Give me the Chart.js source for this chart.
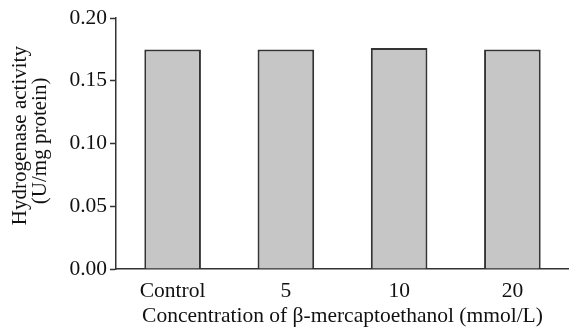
<!DOCTYPE html>
<html>
<head>
<meta charset="utf-8">
<script src="https://cdn.jsdelivr.net/npm/chart.js@4"></script>
<style>
  html, body { margin: 0; padding: 0; background: #fff; }
  #wrap { width: 569px; height: 329px; }
</style>
</head>
<body>
<div id="wrap"><canvas id="chartAktivitas"></canvas></div>
<script>
/* data */
const categories = ["Control", "5", "10", "20"];
const activity = [0.175, 0.175, 0.176, 0.175];
const yTicks = [0, 0.05, 0.1, 0.15, 0.2];

const serif = "'Liberation Serif', 'Times New Roman', serif";
const dark = "#333333";

const cAktivitas = document.getElementById("chartAktivitas");
new Chart(cAktivitas, {
  type: "bar",
  data: {
    labels: categories,
    datasets: [
      {
        data: activity,
        backgroundColor: "#c6c6c6",
        borderColor: dark,
        borderWidth: 2,
        categoryPercentage: 1,
        barPercentage: 0.5,
      },
    ],
  },
  options: {
    responsive: true,
    maintainAspectRatio: false,
    animation: false,
    layout: { padding: { top: 18, right: 0, left: 0, bottom: 0 } },
    plugins: {
      legend: { display: false },
      tooltip: { enabled: false },
    },
    scales: {
      x: {
        offset: true,
        grid: { display: false },
        border: { display: true, color: dark, width: 1.5 },
        ticks: { color: "#111", font: { family: serif, size: 21.5 }, padding: 1 },
        title: {
          display: true,
          text: "Concentration of \u03b2-mercaptoethanol (mmol/L)",
          color: "#111",
          font: { family: serif, size: 21.5 },
          padding: { top: 2, bottom: 0 },
        },
        afterFit: function (scale) {
          scale.height = 60;
        },
      },
      y: {
        min: 0,
        max: 0.2,
        afterBuildTicks: function (scale) {
          scale.ticks = yTicks.map(function (v) {
            return { value: v };
          });
        },
        grid: {
          display: true,
          drawOnChartArea: false,
          drawTicks: true,
          tickLength: 6,
          tickColor: dark,
          tickWidth: 1.5,
        },
        border: { display: true, color: dark, width: 1.5 },
        ticks: {
          color: "#111",
          font: { family: serif, size: 21.5 },
          padding: 3,
          callback: function (v) {
            return Number(v).toFixed(2);
          },
        },
        title: {
          display: true,
          // leading spaces nudge the rotated lines up a little
          text: ["   Hydrogenase activity", " (U/mg protein)"],
          color: "#111",
          font: { family: serif, size: 21, lineHeight: 0.95 },
          padding: { top: 11, bottom: 0 },
        },
        afterFit: function (scale) {
          scale.width = 116;
        },
      },
    },
  },
});
</script>
</body>
</html>
